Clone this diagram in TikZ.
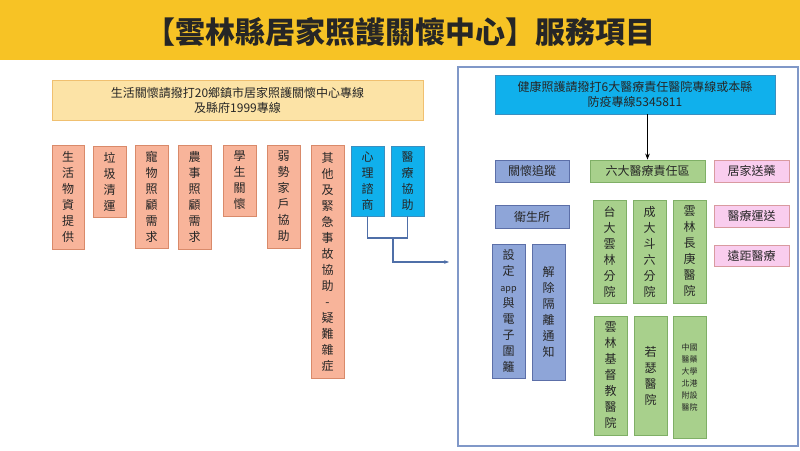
\documentclass[tikz,border=0pt]{standalone}
\usepackage{fontspec}
\setmainfont{Noto Sans CJK TC}
\newfontfamily\cjkb{Noto Sans CJK TC}
\usetikzlibrary{arrows.meta}
\definecolor{ttl}{HTML}{F7C325}
\definecolor{orf}{HTML}{F8B49A}
\definecolor{ord}{HTML}{D98A6A}
\definecolor{blf}{HTML}{10B0EC}
\definecolor{bld}{HTML}{3A8FC0}
\definecolor{pbf}{HTML}{8EA5D8}
\definecolor{pbd}{HTML}{5C6FA8}
\definecolor{grf}{HTML}{A8D08C}
\definecolor{grd}{HTML}{7FAF66}
\definecolor{pkf}{HTML}{F9CDEE}
\definecolor{pkd}{HTML}{D99AA0}
\definecolor{ylf}{HTML}{FCE3A6}
\definecolor{yld}{HTML}{F0C070}
\definecolor{frm}{HTML}{8098C8}
\definecolor{con}{HTML}{4F6FA8}
\tikzset{
 bx/.style={draw, line width=0.8pt, inner sep=0pt, font=\fontsize{12}{16}\selectfont, align=center, text=black!85},
 ob/.style={bx, fill=orf, draw=ord},
 bb/.style={bx, fill=blf, draw=bld},
 pb/.style={bx, fill=pbf, draw=pbd},
 gb/.style={bx, fill=grf, draw=grd},
 kb/.style={bx, fill=pkf, draw=pkd},
}
\newcommand{\bxat}[6]{\node[#1, minimum width=#4-#2, minimum height=#5-#3] (#6) at ({(#2+#4)/2},{(#3+#5)/2})}
\begin{document}
\begin{tikzpicture}[x=1pt,y=-1pt]
\useasboundingbox (0,0) rectangle (800,450);
\fill[white] (0,0) rectangle (800,450);
\fill[ttl] (0,0) rectangle (800,60);
\node[font=\fontsize{30}{34}\selectfont\bfseries, text=black!85] (title) at (400,32) {【雲林縣居家照護關懷中心】服務項目};
% left
\bxat{bx, fill=ylf, draw=yld, font=\fontsize{12}{15}\selectfont}{52}{80}{423}{120}{life} {生活關懷請撥打20鄉鎮市居家照護關懷中心專線\\及縣府1999專線};
\bxat{ob}{52}{145}{84}{249}{o1} {生\\活\\物\\資\\提\\供};
\bxat{ob}{93}{146}{126}{217}{o2} {垃\\圾\\清\\運};
\bxat{ob}{135}{145}{168}{248}{o3} {寵\\物\\照\\顧\\需\\求};
\bxat{ob}{178}{145}{211}{249}{o4} {農\\事\\照\\顧\\需\\求};
\bxat{ob}{223}{145}{256}{216}{o5} {學\\生\\關\\懷};
\bxat{ob}{267}{145}{300}{248}{o6} {弱\\勢\\家\\戶\\協\\助};
\bxat{ob}{311}{145}{344}{378}{o7} {其\\他\\及\\緊\\急\\事\\故\\協\\助\\-\\疑\\難\\雜\\症};
\bxat{bb}{351}{146}{384}{216}{b1} {心\\理\\諮\\商};
\bxat{bb}{391}{146}{424}{216}{b2} {醫\\療\\協\\助};
\coordinate (j) at (393,238);
\coordinate (e) at (449,262);
\draw[con, line width=1.2pt] (b1.south) |- (j) -| (b2.south);
\draw[con, line width=1.2pt, -{Stealth[length=5pt]}] (j) |- (e);
% right
\draw[frm, line width=1.6pt] (458,67) rectangle (798,446);
\bxat{bb, font=\fontsize{12}{15}\selectfont}{495}{75}{775}{114}{hl} {健康照護請撥打6大醫療責任醫院專線或本縣\\防疫專線5345811};
\bxat{pb}{495}{160}{569}{182}{p1} {關懷追蹤};
\bxat{gb}{590}{160}{705}{182}{g0} {六大醫療責任區};
\bxat{kb}{714}{160}{789}{182}{k1} {居家送藥};
\draw[black, line width=1.6pt, -{Stealth[length=6pt]}] (hl.south -| g0.north) -- (g0.north);
\bxat{pb}{495}{205}{569}{228}{p2} {衛生所};
\bxat{kb}{714}{205}{789}{227}{k2} {醫療運送};
\bxat{kb}{714}{245}{789}{266}{k3} {遠距醫療};
\bxat{pb}{492}{244}{525}{378}{p3} {設\\定\\{\fontsize{9}{10}\selectfont app}\\與\\電\\子\\圍\\籬};
\bxat{pb}{532}{244}{565}{380}{p4} {解\\除\\隔\\離\\通\\知};
\bxat{gb}{593}{200}{626}{303}{g1} {台\\大\\雲\\林\\分\\院};
\bxat{gb}{633}{200}{666}{303}{g2} {成\\大\\斗\\六\\分\\院};
\bxat{gb}{673}{200}{706}{303}{g3} {雲\\林\\長\\庚\\醫\\院};
\bxat{gb}{594}{316}{627}{435}{g4} {雲\\林\\基\\督\\教\\醫\\院};
\bxat{gb}{634}{316}{667}{435}{g5} {若\\瑟\\醫\\院};
\bxat{gb, font=\fontsize{8}{12}\selectfont}{673}{316}{706}{438}{g6} {中國\\醫藥\\大學\\北港\\附設\\醫院};
\end{tikzpicture}
\end{document}
